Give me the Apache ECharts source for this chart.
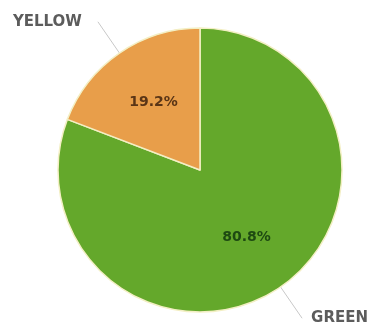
<!DOCTYPE html>
<html>
<head>
<meta charset="utf-8">
<script src="https://cdn.jsdelivr.net/npm/echarts@6/dist/echarts.min.js"></script>
<style>html,body{margin:0;padding:0;background:#fff;}#c{width:370px;height:326px;}</style>
</head>
<body>
<div id="c"></div>
<script>
var categories = ['GREEN', 'YELLOW'];
var values = [80.8, 19.2];
var colors = ['#64a82b', '#e89e4a'];
var innerTextColors = ['#1e4a12', '#5a3516'];
var labelGaps = [9, 16];

var chart = echarts.init(document.getElementById('c'), null, {renderer: 'canvas'});
var dataMain = categories.map(function (c, i) {
  return {name: c, value: values[i], itemStyle: {color: colors[i]}, label: {distanceToLabelLine: labelGaps[i]}};
});
var dataInner = categories.map(function (c, i) {
  return {name: c, value: values[i], label: {color: innerTextColors[i]}};
});
chart.setOption({
  animation: false,
  series: [
    {
      type: 'pie',
      center: [200, 170],
      radius: [0, 142],
      startAngle: 90,
      clockwise: true,
      silent: true,
      data: dataMain,
      itemStyle: {borderColor: '#f3efc4', borderWidth: 1.5},
      label: {
        show: true,
        position: 'outside',
        formatter: '{b}',
        color: '#5c5c5c',
        fontFamily: 'DejaVu Sans',
        fontWeight: 'bold',
        fontSize: 15,
        overflow: 'none'
      },
      labelLine: {show: true, length: 38, length2: 0, lineStyle: {color: '#c8c8c8', width: 1}}
    },
    {
      type: 'pie',
      center: [200, 170],
      radius: [0, 158],
      startAngle: 90,
      clockwise: true,
      silent: true,
      data: dataInner,
      itemStyle: {color: 'rgba(0,0,0,0)'},
      label: {
        show: true,
        position: 'inside',
        formatter: function (p) { return p.value.toFixed(1) + '%'; },
        fontFamily: 'DejaVu Sans',
        fontWeight: 'bold',
        fontSize: 14
      },
      labelLine: {show: false}
    }
  ]
});
</script>
</body>
</html>
